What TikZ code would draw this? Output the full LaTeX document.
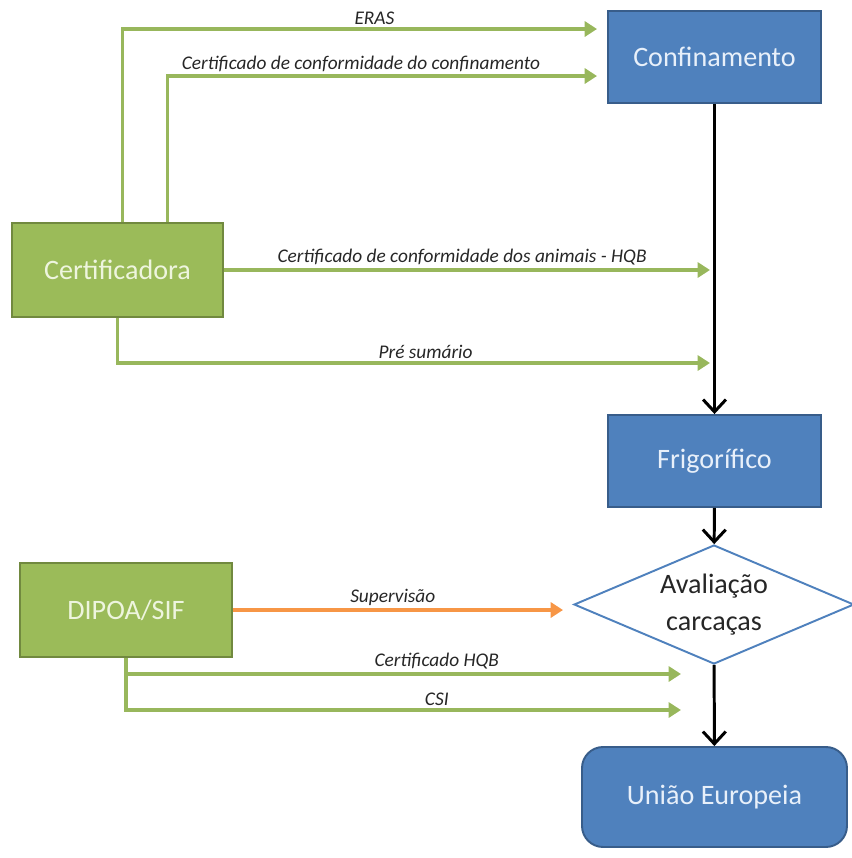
\documentclass[tikz,border=0pt]{standalone}
\usepackage{fontspec}
\setmainfont{Carlito}
\usepackage{tikz}
\usetikzlibrary{positioning, arrows.meta, shapes.geometric, calc}
\usepackage{xcolor}
\definecolor{boxblue}{RGB}{79,129,189}
\definecolor{blueline}{RGB}{56,93,138}
\definecolor{bluetext}{RGB}{232,240,250}
\definecolor{boxgreen}{RGB}{155,187,89}
\definecolor{greenline}{RGB}{113,137,63}
\definecolor{greentext}{RGB}{238,245,222}
\definecolor{flowgreen}{RGB}{152,183,92}
\definecolor{floworange}{RGB}{247,150,70}
\definecolor{labelgray}{RGB}{38,38,38}

\begin{document}
\begin{tikzpicture}[
    stage/.style={draw=blueline, line width=1.1pt, fill=boxblue, rectangle, minimum width=4.26cm, minimum height=1.84cm, align=center, text=bluetext, font=\fontsize{16}{19}\selectfont},
    agent/.style={draw=greenline, line width=1.1pt, fill=boxgreen, rectangle, minimum width=4.22cm, minimum height=1.88cm, align=center, text=greentext, font=\fontsize{16}{19}\selectfont},
    check/.style={draw=boxblue, line width=1.1pt, fill=white, diamond, aspect=2.4, inner sep=0pt, minimum width=5.6cm, minimum height=2.38cm, align=center, text=labelgray, font=\fontsize{16}{21}\selectfont},
    lbl/.style={above, inner sep=1.5pt, text=labelgray, font=\fontsize{11}{13}\selectfont\itshape},
    garr/.style={draw=flowgreen, line width=2.2pt, -{Triangle[length=7pt, width=8.5pt]}},
    oarr/.style={draw=floworange, line width=2.2pt, -{Triangle[length=7pt, width=8.5pt]}},
    barr/.style={draw=black, line width=1.7pt, -{Straight Barb[length=7pt, width=13pt, line width=1.7pt]}}
]
    \useasboundingbox (0,0) rectangle (17.04,-17.16);

    \node[stage] (conf) at (14.29, -1.14) {Confinamento};
    \node[stage] (frig) at (14.29, -9.22) {Frigorífico};
    \node[check] (aval) at (14.28, -12.09) {Avaliação\\carcaças};
    \node[stage, rounded corners=12pt, minimum width=5.3cm, minimum height=2.0cm] (ue) at (14.29, -15.94) {União Europeia};

    \node[agent] (cert) at (2.35, -5.40) {Certificadora};
    \node[agent, minimum width=4.24cm] (dipoa) at (2.52, -12.20) {DIPOA/SIF};

    \coordinate (animEnd) at (14.20, -5.40);
    \coordinate (preEnd) at (14.20, -7.26);
    \coordinate (hqbEnd) at (13.62, -13.48);
    \coordinate (csiEnd) at (13.62, -14.20);

    \draw[barr] (conf) -- (frig);
    \draw[barr] (frig) -- (aval);
    \draw[barr] (aval) -- (ue);

    \draw[garr, shorten >=0.2cm] ([xshift=0.1cm]cert.north) |- ([yshift=0.56cm]conf.west) node[lbl, pos=0.76] {ERAS};
    \draw[garr, shorten >=0.2cm] ([xshift=1.0cm]cert.north) |- ([yshift=-0.38cm]conf.west) node[lbl, pos=0.72] {Certificado de conformidade do confinamento};
    \draw[garr] (cert.east) -- (animEnd) node[lbl, pos=0.49] {Certificado de conformidade dos animais - HQB};
    \draw[garr] (cert.south) |- (preEnd) node[lbl, pos=0.76] {Pré sumário};

    \draw[oarr, shorten >=0.2cm] (dipoa.east) -- (dipoa.east -| aval.west) node[lbl, pos=0.47] {Supervisão};
    \draw[garr] (dipoa.south) |- (hqbEnd) node[lbl, pos=0.78] {Certificado HQB};
    \draw[garr] (dipoa.south) |- (csiEnd) node[lbl, pos=0.78] {CSI};
\end{tikzpicture}
\end{document}
